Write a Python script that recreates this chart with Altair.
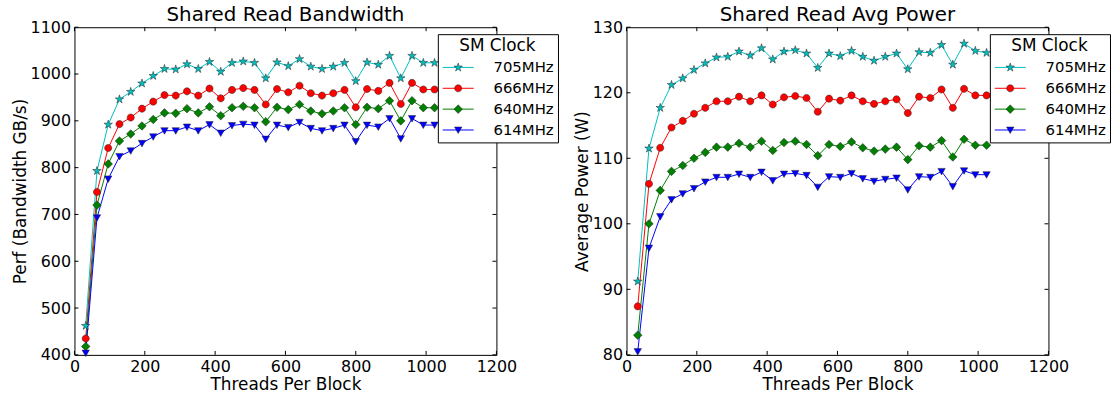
import altair as alt
import pandas as pd

threads = [32 * i for i in range(1, 33)]
clocks = ["705MHz", "666MHz", "640MHz", "614MHz"]
colors = ["#00BFBF", "#FF0000", "#008000", "#0000FF"]

bw_705 = [462, 793, 892, 946, 962, 980, 996, 1011, 1010, 1021, 1011, 1026, 1005, 1024, 1027, 1024,
          991, 1025, 1017, 1032, 1016, 1011, 1016, 1024, 985, 1025, 1020, 1039, 991, 1039, 1024, 1024]
bw_666 = [435, 748, 842, 893, 907, 926, 941, 955, 954, 963, 954, 969, 948, 966, 970, 966,
          935, 968, 961, 975, 959, 954, 959, 966, 929, 968, 964, 981, 936, 981, 967, 967]
bw_640 = [418, 720, 808, 857, 872, 889, 903, 917, 916, 926, 917, 930, 911, 928, 931, 928,
          898, 929, 924, 935, 921, 915, 921, 928, 892, 929, 926, 943, 900, 943, 928, 928]
bw_614 = [404, 693, 776, 824, 836, 852, 866, 879, 879, 887, 879, 892, 874, 890, 893, 891,
          861, 891, 886, 897, 884, 879, 884, 891, 856, 891, 887, 905, 862, 905, 891, 891]

pw_705 = [91.2, 111.5, 117.7, 121.2, 122.2, 123.5, 124.5, 125.4, 125.5, 126.3, 125.7, 126.8, 125.1, 126.3, 126.5, 126.0,
          123.8, 126.0, 125.6, 126.4, 125.5, 124.9, 125.5, 126.0, 123.6, 126.2, 126.1, 127.3, 124.3, 127.5, 126.4, 126.1]
pw_666 = [87.4, 106.1, 111.6, 114.7, 115.7, 116.8, 117.7, 118.7, 118.7, 119.4, 118.7, 119.6, 118.2, 119.3, 119.5, 119.2,
          117.1, 119.1, 118.8, 119.6, 118.7, 118.3, 118.7, 119.0, 116.9, 119.4, 119.2, 120.5, 117.7, 120.6, 119.6, 119.6]
pw_640 = [83.0, 100.0, 105.1, 108.0, 108.9, 110.0, 110.9, 111.7, 111.7, 112.3, 111.7, 112.6, 111.2, 112.4, 112.6, 112.1,
          110.4, 112.1, 111.8, 112.5, 111.6, 111.1, 111.4, 111.7, 109.8, 111.9, 111.7, 112.7, 110.2, 112.9, 112.0, 112.0]
pw_614 = [80.5, 96.3, 101.1, 103.7, 104.6, 105.4, 106.4, 107.1, 107.1, 107.6, 107.1, 107.9, 106.6, 107.6, 107.7, 107.4,
          105.6, 107.2, 107.1, 107.7, 106.9, 106.5, 106.8, 107.0, 105.2, 107.2, 107.1, 108.0, 105.7, 108.1, 107.5, 107.5]

x_ticks = [0, 200, 400, 600, 800, 1000, 1200]
bw_ticks = [400, 500, 600, 700, 800, 900, 1000, 1100]
pw_ticks = [80, 90, 100, 110, 120, 130]

# marker shapes (unit paths; legend line segment path is wider than symbol size)
star = ("M0,-0.75L0.168,-0.232L0.713,-0.232L0.271,0.088L0.44,0.607L0,0.287L-0.44,0.607"
        "L-0.271,0.088L-0.713,-0.232L-0.168,-0.232Z")
circle = "M-0.6,0A0.6,0.6 0 1,0 0.6,0A0.6,0.6 0 1,0 -0.6,0Z"
diamond = "M0,-0.72L0.72,0L0,0.72L-0.72,0Z"
tri_down = "M-0.62,-0.5L0.62,-0.5L0,0.6Z"
shapes = [star, circle, diamond, tri_down]
seg = "M-2.6,0L2.6,0"

W, H = 425, 330
FONT = "DejaVu Sans"
SYM = 144


def panel(series, title, ytitle, ydomain, yticks):
    rows = []
    for c, vals in zip(clocks, series):
        for t, v in zip(threads, vals):
            rows.append({"threads": t, "value": v, "clock": c, "clock_m": c})
    df = pd.DataFrame(rows)

    xenc = alt.X("threads:Q", scale=alt.Scale(domain=[0, 1200], nice=False, zero=False),
                 axis=alt.Axis(values=x_ticks, title="Threads Per Block", format="d",
                               labelPadding=4, titlePadding=2))
    yenc = alt.Y("value:Q", scale=alt.Scale(domain=ydomain, nice=False, zero=False),
                 axis=alt.Axis(values=yticks, title=ytitle, format="d", titlePadding=1))

    common_leg = dict(orient="none", legendX=366, legendY=7, symbolSize=SYM,
                      titleFontSize=17, labelFontSize=15, titleFont=FONT, labelFont=FONT,
                      titleFontWeight="normal", titleAnchor="middle", padding=4,
                      rowPadding=5, titlePadding=5, labelOffset=28, symbolOffset=9,
                      title="SM Clock")

    lines = alt.Chart(df).mark_line(strokeWidth=1).encode(
        x=xenc, y=yenc,
        stroke=alt.Stroke("clock:N", sort=clocks, scale=alt.Scale(range=colors),
                          legend=alt.Legend(symbolType=seg, symbolStrokeWidth=1,
                                            strokeColor="black", fillColor="white",
                                            titleColor="black", labelColor="black",
                                            **common_leg)),
    )
    mleg = alt.Legend(titleColor="transparent", labelColor="transparent",
                      symbolStrokeColor="#222222", symbolStrokeWidth=0.5, **common_leg)
    points = alt.Chart(df).mark_point(filled=True, size=SYM, stroke="#222222",
                                      strokeWidth=0.5, opacity=1).encode(
        x=xenc, y=yenc,
        color=alt.Color("clock_m:N", scale=alt.Scale(domain=clocks, range=colors), legend=mleg),
        shape=alt.Shape("clock_m:N", scale=alt.Scale(domain=clocks, range=shapes), legend=mleg),
    )

    xt = pd.DataFrame({"threads": x_ticks})
    yt = pd.DataFrame({"value": yticks})
    tick_top = alt.Chart(xt).mark_rule(color="black", strokeWidth=1).encode(
        x=xenc, y=alt.value(0), y2=alt.value(4))
    tick_bot = alt.Chart(xt).mark_rule(color="black", strokeWidth=1).encode(
        x=xenc, y=alt.value(H - 4), y2=alt.value(H))
    tick_l = alt.Chart(yt).mark_rule(color="black", strokeWidth=1).encode(
        y=yenc, x=alt.value(0), x2=alt.value(4))
    tick_r = alt.Chart(yt).mark_rule(color="black", strokeWidth=1).encode(
        y=yenc, x=alt.value(W - 4), x2=alt.value(W))

    return alt.layer(tick_top, tick_bot, tick_l, tick_r, lines, points).properties(
        width=W, height=H,
        title=alt.TitleParams(title, fontSize=20, font=FONT, fontWeight="normal",
                              color="black", anchor="middle", frame="group", offset=-6),
    )


left = panel([bw_705, bw_666, bw_640, bw_614], "Shared Read Bandwidth",
             "Perf (Bandwidth GB/s)", [400, 1100], bw_ticks)
right = panel([pw_705, pw_666, pw_640, pw_614], "Shared Read Avg Power",
              "Average Power (W)", [80, 130], pw_ticks)

chart = alt.hconcat(left, right, spacing=131, bounds="flush").resolve_scale(
    color="independent", stroke="independent", shape="independent",
    x="independent", y="independent"
).resolve_legend(
    color="independent", stroke="independent", shape="independent"
).properties(
    padding={"left": 10, "top": 3, "right": 0, "bottom": 0},
    background="white",
).configure_view(
    stroke="black", strokeWidth=1
).configure_axis(
    labelFont=FONT, titleFont=FONT, labelFontSize=16, titleFontSize=17,
    titleFontWeight="normal", labelColor="black", titleColor="black",
    ticks=False, domain=False, grid=False, labelPadding=4, labelFlush=False,
)

chart.save("out.html", embed_options={"renderer": "svg", "actions": False})
